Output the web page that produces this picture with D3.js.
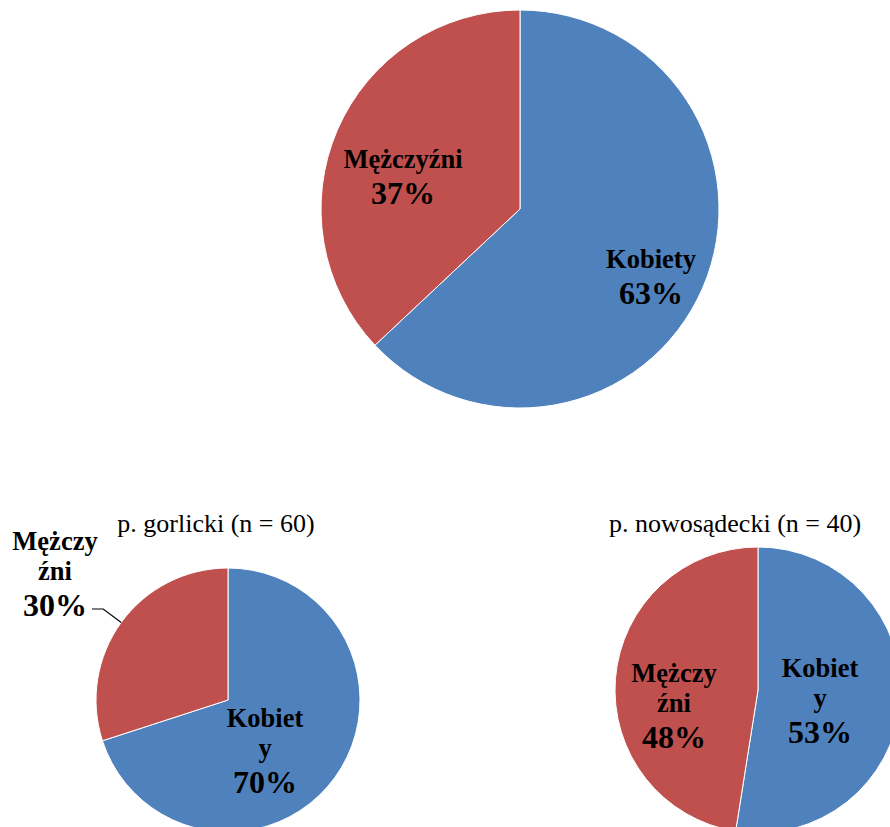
<!DOCTYPE html>
<html>
<head>
<meta charset="utf-8">
<script src="https://cdn.jsdelivr.net/npm/d3@7"></script>
<style>
  html, body { margin: 0; padding: 0; background: #fff; }
  svg { display: block; }
  text { font-family: "Liberation Serif", "Times New Roman", serif; fill: #000; }
</style>
</head>
<body>
<svg id="chart" width="890" height="827"></svg>
<script>
// Gender structure of respondents: overall and by district
const categories = ["Kobiety", "Mężczyźni"];
const colors = ["#4F81BD", "#C0504D"];

const totalValues = [63, 37];       // whole sample, %
const gorlickiValues = [42, 18];    // p. gorlicki, n = 60
const nowosadeckiValues = [21, 19]; // p. nowosądecki, n = 40

const titles = ["", "p. gorlicki (n = 60)", "p. nowosądecki (n = 40)"];

// Layout of each pie: centre, radius, label wrap width and label anchors
// (label anchors: x of the block centre and first baseline, relative to the centre)
const layout = [
  { values: totalValues, cx: 520, cy: 209, r: 199, wrap: 0,
    labels: [{ dx: 131, dy: 59 }, { dx: -117, dy: -41 }] },
  { values: gorlickiValues, cx: 228, cy: 700, r: 132, wrap: 6, titleX: 216,
    labels: [{ dx: 37, dy: 27 }, { dx: -173, dy: -150, leader: true }] },
  { values: nowosadeckiValues, cx: 758, cy: 690, r: 143, wrap: 6, titleX: 735,
    labels: [{ dx: 62, dy: -13 }, { dx: -84, dy: -8 }] }
];

const NAME_SIZE = 26.5, PCT_SIZE = 32, LINE_STEP = 30, PCT_STEP = 36;

const svg = d3.select("#chart");

const pie = d3.pie().sort(null).value(d => d);

function wrapName(name, n) {
  if (!n) return [name];
  const out = [];
  for (let i = 0; i < name.length; i += n) out.push(name.slice(i, i + n));
  return out;
}

layout.forEach((cfg, ci) => {
  const g = svg.append("g").attr("transform", `translate(${cfg.cx},${cfg.cy})`);
  const arcs = pie(cfg.values);
  const total = d3.sum(cfg.values);
  const arc = d3.arc().innerRadius(0).outerRadius(cfg.r);

  g.selectAll("path.slice")
    .data(arcs)
    .join("path")
    .attr("class", "slice")
    .attr("d", arc)
    .attr("fill", (d, i) => colors[i])
    .attr("stroke", "#fff")
    .attr("stroke-width", 1);

  if (titles[ci]) {
    svg.append("text")
      .attr("x", cfg.titleX)
      .attr("y", 532)
      .attr("text-anchor", "middle")
      .attr("font-size", 26)
      .text(titles[ci]);
  }

  arcs.forEach((a, i) => {
    const lab = cfg.labels[i];
    const lines = wrapName(categories[i], cfg.wrap);
    const pct = Math.round(a.value / total * 100) + "%";
    const t = g.append("text")
      .attr("text-anchor", "middle")
      .attr("font-weight", "bold");
    lines.forEach((ln, k) => {
      t.append("tspan")
        .attr("x", lab.dx)
        .attr("y", lab.dy + k * LINE_STEP)
        .attr("font-size", NAME_SIZE)
        .text(ln);
    });
    const pctY = lab.dy + (lines.length - 1) * LINE_STEP + PCT_STEP;
    t.append("tspan")
      .attr("x", lab.dx)
      .attr("y", pctY)
      .attr("font-size", PCT_SIZE)
      .text(pct);

    if (lab.leader) {
      // leader from the label to the slice edge at its mid-angle
      const mid = (a.startAngle + a.endAngle) / 2;
      const ex = Math.sin(mid) * cfg.r, ey = -Math.cos(mid) * cfg.r;
      const ly = pctY - 7;
      g.append("path")
        .attr("d", d3.line()([[lab.dx + 37, ly], [ex - 18, ly], [ex, ey]]))
        .attr("fill", "none")
        .attr("stroke", "#000")
        .attr("stroke-width", 1.2);
    }
  });
});
</script>
</body>
</html>
